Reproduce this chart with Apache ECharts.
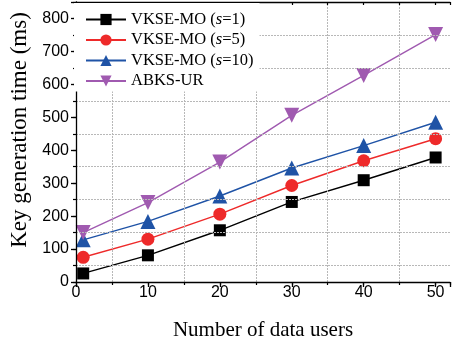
<!DOCTYPE html>
<html><head><meta charset="utf-8">
<script src="https://cdn.jsdelivr.net/npm/echarts@6/dist/echarts.min.js"></script>
<style>html,body{margin:0;padding:0;background:#fff}#c{width:453px;height:347px}</style>
</head><body><div id="c"></div>
<script>
const users = [1, 10, 20, 30, 40, 50];
const s1 = [26, 81, 157, 243, 309, 378];
const s5 = [75, 130, 206, 293, 368, 435];
const s10 = [128, 184, 261, 346, 414, 485];
const abks = [150, 241, 364, 506, 627, 751];
const seriesNames = ['VKSE-MO (s=1)', 'VKSE-MO (s=5)', 'VKSE-MO (s=10)', 'ABKS-UR'];
const xGridLines = [5, 15, 25, 35, 45];
const yGridLines = [50, 150, 250, 350, 450, 550, 650, 750];

const pairs = arr => users.map((u, i) => [u, arr[i]]);
const chart = echarts.init(document.getElementById('c'));
const black = '#000';
const serif = '"Liberation Serif","Times New Roman",serif';
const sans = '"Liberation Sans",Arial,sans-serif';
function mk(name, data, color, symbol, size, rot) {
  return {
    name, type: 'line', data: pairs(data), xAxisIndex: 0, yAxisIndex: 0,
    symbol, symbolSize: size, symbolRotate: rot || 0, showSymbol: true,
    lineStyle: { color, width: 1.4 }, itemStyle: { color, borderWidth: 0 },
    z: 3, animation: false
  };
}
chart.setOption({
  animation: false,
  grid: { left: 73, top: 2, right: -1, bottom: 65 },
  legend: {
    data: seriesNames, orient: 'vertical', left: 74, top: 3,
    padding: [8, 6, 2, 11], itemGap: 3.5, itemWidth: 40, itemHeight: 14,
    backgroundColor: '#fff', z: 10,
    textStyle: { fontFamily: serif, fontSize: 16.5, color: '#000',
      rich: { i: { fontFamily: serif, fontSize: 16.5, fontStyle: 'italic', color: '#000' } } },
    formatter: n => n.replace('(s=', '({i|s}=')
  },
  xAxis: [
    { type: 'value', min: 0, max: 52, interval: 10, position: 'bottom', z: 5,
      name: 'Number of data users', nameLocation: 'middle', nameGap: 38,
      nameTextStyle: { fontFamily: serif, fontSize: 21, color: '#000' },
      axisLine: { show: true, lineStyle: { color: black, width: 1.3 } },
      axisTick: { show: true, inside: false, length: 5, lineStyle: { color: black, width: 1.3 } },
      axisLabel: { margin: 3, fontFamily: sans, fontSize: 16, color: '#000',
        formatter: v => (v % 10 === 0 ? String(v) : '') },
      splitLine: { show: false } },
    { type: 'value', min: 0, max: 52, interval: 5, position: 'bottom', z: 5,
      axisLine: { show: false }, axisLabel: { show: false },
      axisTick: { show: true, inside: false, length: 3, lineStyle: { color: black, width: 1.2 } },
      splitLine: { show: false } },
    { type: 'value', min: 0, max: 52, interval: 5, position: 'top', z: 5,
      axisLine: { show: true, lineStyle: { color: black, width: 1.3 } }, axisLabel: { show: false },
      axisTick: { show: true, inside: true, length: 3, lineStyle: { color: black, width: 1.2 } },
      splitLine: { show: false } }
  ],
  yAxis: [
    { type: 'value', min: 0, max: 850, interval: 100, position: 'left', z: 5,
      name: 'Key generation time (ms)', nameLocation: 'middle', nameGap: 45,
      nameTextStyle: { fontFamily: serif, fontSize: 23, color: '#000', padding: [0, 0, 0, 24] },
      axisLine: { show: true, lineStyle: { color: black, width: 1.3 } },
      axisTick: { show: true, inside: false, length: 5, lineStyle: { color: black, width: 1.3 } },
      axisLabel: { margin: 7, fontFamily: sans, fontSize: 16, color: '#000',
        formatter: v => (v % 100 === 0 ? String(v) : '') },
      splitLine: { show: false } },
    { type: 'value', min: 0, max: 850, interval: 50, position: 'left', z: 5,
      axisLine: { show: false }, axisLabel: { show: false },
      axisTick: { show: true, inside: false, length: 3, lineStyle: { color: black, width: 1.2 } },
      splitLine: { show: false } }
  ],
  series: [
    { type: 'line', data: [], xAxisIndex: 0, yAxisIndex: 0, z: 1, silent: true,
      markLine: { silent: true, symbol: ['none', 'none'], label: { show: false },
        lineStyle: { color: '#b8b8b8', type: [2, 1], width: 1 },
        data: xGridLines.map(v => ({ xAxis: v })).concat(yGridLines.map(v => ({ yAxis: v }))) } },
    mk(seriesNames[0], s1, '#000000', 'rect', 12),
    mk(seriesNames[1], s5, '#ee2a2a', 'circle', 13),
    mk(seriesNames[2], s10, '#1f53a6', 'triangle', 15),
    mk(seriesNames[3], abks, '#a05ab0', 'triangle', 15, 180)
  ]
});
</script></body></html>
